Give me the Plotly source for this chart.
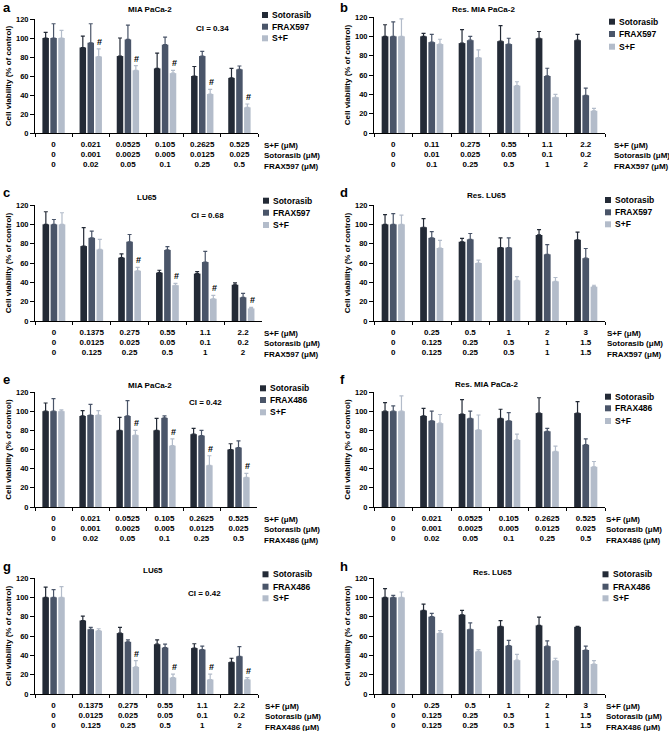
import plotly.graph_objects as go

# ---------------- data ----------------
# dose labels (tick rows)
mia_sf = ["0", "0.021", "0.0525", "0.105", "0.2625", "0.525"]
mia_soto = ["0", "0.001", "0.0025", "0.005", "0.0125", "0.025"]
mia_frax = ["0", "0.02", "0.05", "0.1", "0.25", "0.5"]

resmia_sf = ["0", "0.11", "0.275", "0.55", "1.1", "2.2"]
resmia_soto = ["0", "0.01", "0.025", "0.05", "0.1", "0.2"]
resmia_frax = ["0", "0.1", "0.25", "0.5", "1", "2"]

lu_sf = ["0", "0.1375", "0.275", "0.55", "1.1", "2.2"]
lu_soto = ["0", "0.0125", "0.025", "0.05", "0.1", "0.2"]
lu_frax = ["0", "0.125", "0.25", "0.5", "1", "2"]

reslu_sf = ["0", "0.25", "0.5", "1", "2", "3"]
reslu_soto = ["0", "0.125", "0.25", "0.5", "1", "1.5"]
reslu_frax = ["0", "0.125", "0.25", "0.5", "1", "1.5"]

# panel a: MIA PaCa-2, FRAX597
a_soto = [100, 90, 81, 68, 60, 58]
a_soto_err = [6, 12, 19, 16, 10, 10]
a_frax = [100, 95, 98.5, 93, 81, 67]
a_frax_err = [15, 20, 15, 8, 5, 3.5]
a_sf = [100, 80.5, 66, 63, 41, 27]
a_sf_err = [8, 8, 5, 3, 5, 3.5]
a_hash = [False, True, True, True, True, True]

# panel b: Res. MIA PaCa-2, FRAX597
b_soto = [100, 100, 93, 95, 98, 96]
b_soto_err = [12, 3, 14, 16, 7, 6]
b_frax = [100, 94, 96, 92, 59, 39]
b_frax_err = [15, 8, 4, 6, 8, 7.5]
b_sf = [100, 92, 78, 49, 37, 23]
b_sf_err = [18, 5, 8, 4, 3, 2.5]
b_hash = [False] * 6

# panel c: LU65, FRAX597
c_soto = [100, 77.5, 65.5, 50, 49, 37.5]
c_soto_err = [13, 19, 4, 2.5, 2, 2]
c_frax = [100, 86, 82, 73.5, 61, 24.5]
c_frax_err = [5, 7, 7.5, 3.5, 11, 4]
c_sf = [100, 74, 52, 37, 23, 13]
c_sf_err = [12, 10.5, 3.5, 2, 3.5, 1]
c_hash = [False, False, True, True, True, True]

# panel d: Res. LU65, FRAX597
d_soto = [100, 97, 82, 76, 89, 84]
d_soto_err = [10, 9, 3.5, 10, 5.5, 8]
d_frax = [100, 86, 84.5, 76, 69, 65]
d_frax_err = [11, 6.5, 6, 10, 10, 10]
d_sf = [100, 75.5, 60, 42, 41, 35.5]
d_sf_err = [9.5, 8, 3, 4, 4, 1.5]
d_hash = [False] * 6

# panel e: MIA PaCa-2, FRAX486
e_soto = [100, 95, 80, 80, 76, 60]
e_soto_err = [8.5, 5.5, 13.5, 12.5, 6, 6]
e_frax = [100, 96, 95, 93, 74.5, 62]
e_frax_err = [13, 11, 16, 2, 5.5, 7]
e_sf = [100, 96, 75, 64, 43.5, 31]
e_sf_err = [1.5, 4.5, 5, 7, 10, 4]
e_hash = [False, False, True, True, True, True]

# panel f: Res. MIA PaCa-2, FRAX486
f_soto = [100, 95, 97, 92.5, 98, 98]
f_soto_err = [9, 8, 15, 9.5, 16, 12]
f_frax = [100, 90, 92.5, 90, 79, 65]
f_frax_err = [5.5, 10, 7.5, 8.5, 3, 6]
f_sf = [100, 87.5, 80.5, 70, 58, 42]
f_sf_err = [16, 9, 15.5, 6, 5.5, 5.5]
f_hash = [False] * 6

# panel g: LU65, FRAX486
g_soto = [100, 76, 63, 51.5, 47.5, 33]
g_soto_err = [10.5, 4.5, 6, 4.5, 4.5, 4]
g_frax = [100, 67, 54, 48, 46, 39]
g_frax_err = [8, 2, 2, 3.5, 3.5, 10]
g_sf = [100, 65.5, 28, 17, 15, 15]
g_sf_err = [11, 2, 6.5, 3.5, 5.5, 2]
g_hash = [False, False, True, True, True, True]

# panel h: Res. LU65, FRAX486
h_soto = [100, 86.5, 82, 70, 71, 69.5]
h_soto_err = [9, 6.5, 4.5, 6, 8.5, 0.5]
h_frax = [100, 80, 67, 50, 49.5, 45.5]
h_frax_err = [2, 3.5, 6.5, 5.5, 5.5, 4]
h_sf = [100, 63, 44, 35, 34.5, 31]
h_sf_err = [5.5, 2.5, 2, 6, 2.5, 3.5]
h_hash = [False] * 6

# ---------------- style / layout ----------------
W, H = 669, 731
FONT = "Liberation Sans, Arial, Helvetica, sans-serif"
C_SOTO = "#232a36"
C_FRAX = "#4a5569"
C_SF = "#b3bcca"
BARGAP = 0.36

panels = [
    dict(letter="a", title="MIA PaCa-2", frax="FRAX597", data=(a_soto, a_soto_err, a_frax, a_frax_err, a_sf, a_sf_err), hash=a_hash,
         ci="CI = 0.34", conc=(mia_sf, mia_soto, mia_frax),
         box=(35, 258, 19, 133), title_xy=(150, 10), letter_xy=(1, 0), ci_xy=(212, 29),
         leg_x=265, leg_y=(15, 26.7, 38.3), rowlab_x=262),
    dict(letter="b", title="Res. MIA PaCa-2", frax="FRAX597", data=(b_soto, b_soto_err, b_frax, b_frax_err, b_sf, b_sf_err), hash=b_hash,
         ci=None, conc=(resmia_sf, resmia_soto, resmia_frax),
         box=(374, 605, 17, 133), title_xy=(483, 10), letter_xy=(338, 0), ci_xy=None,
         leg_x=612, leg_y=(21.7, 34, 46.7), rowlab_x=612),
    dict(letter="c", title="LU65", frax="FRAX597", data=(c_soto, c_soto_err, c_frax, c_frax_err, c_sf, c_sf_err), hash=c_hash,
         ci="CI = 0.68", conc=(lu_sf, lu_soto, lu_frax),
         box=(35, 262, 205, 321), title_xy=(147, 197), letter_xy=(1, 185), ci_xy=(208, 215),
         leg_x=266, leg_y=(200.7, 212.7, 225), rowlab_x=262),
    dict(letter="d", title="Res. LU65", frax="FRAX597", data=(d_soto, d_soto_err, d_frax, d_frax_err, d_sf, d_sf_err), hash=d_hash,
         ci=None, conc=(reslu_sf, reslu_soto, reslu_frax),
         box=(374, 605, 205, 321), title_xy=(487, 196), letter_xy=(338, 185), ci_xy=None,
         leg_x=608, leg_y=(200, 212.3, 224.3), rowlab_x=605),
    dict(letter="e", title="MIA PaCa-2", frax="FRAX486", data=(e_soto, e_soto_err, e_frax, e_frax_err, e_sf, e_sf_err), hash=e_hash,
         ci="CI = 0.42", conc=(mia_sf, mia_soto, mia_frax),
         box=(35, 257, 392, 507), title_xy=(150, 385), letter_xy=(1, 372), ci_xy=(205, 402),
         leg_x=263, leg_y=(388.3, 400, 412.3), rowlab_x=262),
    dict(letter="f", title="Res. MIA PaCa-2", frax="FRAX486", data=(f_soto, f_soto_err, f_frax, f_frax_err, f_sf, f_sf_err), hash=f_hash,
         ci=None, conc=(mia_sf, mia_soto, mia_frax),
         box=(374, 605, 392, 507), title_xy=(487, 384), letter_xy=(338, 372), ci_xy=None,
         leg_x=608, leg_y=(396.7, 408.3, 421), rowlab_x=604),
    dict(letter="g", title="LU65", frax="FRAX486", data=(g_soto, g_soto_err, g_frax, g_frax_err, g_sf, g_sf_err), hash=g_hash,
         ci="CI = 0.42", conc=(lu_sf, lu_soto, lu_frax),
         box=(35, 258, 578, 694), title_xy=(153, 570), letter_xy=(1, 559), ci_xy=(204, 593),
         leg_x=265.5, leg_y=(574.3, 586.7, 598.3), rowlab_x=263),
    dict(letter="h", title="Res. LU65", frax="FRAX486", data=(h_soto, h_soto_err, h_frax, h_frax_err, h_sf, h_sf_err), hash=h_hash,
         ci=None, conc=(reslu_sf, reslu_soto, reslu_frax),
         box=(374, 605, 578, 694), title_xy=(492, 572), letter_xy=(338, 559), ci_xy=None,
         leg_x=605.5, leg_y=(574.3, 586.7, 598.3), rowlab_x=604),
]

fig = go.Figure()
annotations = []
shapes = []
layout = dict(
    width=W, height=H, autosize=False,
    margin=dict(l=0, r=0, t=0, b=0),
    paper_bgcolor="white", plot_bgcolor="white",
    barmode="group", bargap=BARGAP, bargroupgap=0.18,
    font=dict(family=FONT, size=8, color="black"),
    showlegend=False,
)


def px_x(v):
    return v / W


def px_y(v):
    return 1 - v / H


for i, p in enumerate(panels, start=1):
    xa = "x" if i == 1 else f"x{i}"
    ya = "y" if i == 1 else f"y{i}"
    soto, soto_e, frax, frax_e, sf, sf_e = p["data"]
    r_sf, r_soto, r_frax = p["conc"]
    cats = [f"{a}<br>{b}<br>{c}" for a, b, c in zip(r_sf, r_soto, r_frax)]
    series = [("Sotorasib", soto, soto_e, C_SOTO),
              (p["frax"], frax, frax_e, C_FRAX),
              ("S+F", sf, sf_e, C_SF)]

    for name, vals, errs, col in series:
        fig.add_trace(go.Bar(
            x=cats, y=vals, name=name, xaxis=xa, yaxis=ya,
            marker=dict(color=col, line=dict(width=0)),
            error_y=dict(type="data", symmetric=False, array=errs, arrayminus=[0] * len(errs),
                         color=col, thickness=1.2, width=2),
        ))

    x0, x1, y0, y1 = p["box"]
    xkey = "xaxis" if i == 1 else f"xaxis{i}"
    ykey = "yaxis" if i == 1 else f"yaxis{i}"
    layout[xkey] = dict(
        domain=[px_x(x0), px_x(x1)], anchor=ya, type="category",
        showline=True, linecolor="black", linewidth=1, mirror=False,
        ticks="outside", tickson="boundaries", ticklen=3, tickwidth=1, tickcolor="black",
        ticklabelstandoff=3,
        tickfont=dict(family=FONT, size=8, color="black", weight="bold"),
        showgrid=False, zeroline=False, automargin=False, fixedrange=True,
    )
    layout[ykey] = dict(
        domain=[px_y(y1), px_y(y0)], anchor=xa, range=[0, 120], tick0=0, dtick=20,
        showline=True, linecolor="black", linewidth=1,
        ticks="outside", ticklen=4, tickwidth=1, tickcolor="black",
        tickfont=dict(family=FONT, size=7.5, color="black", weight="bold"),
        showgrid=False, zeroline=False, automargin=False, fixedrange=True,
        title=dict(text="Cell viability (% of control)", standoff=3,
                   font=dict(family=FONT, size=8, color="black", weight="bold")),
    )

    # legend (key squares + labels)
    for (name, _, _, col), ry in zip(series, p["leg_y"]):
        sx = p["leg_x"]
        shapes.append(dict(type="rect", xref="paper", yref="paper",
                           x0=px_x(sx - 3), x1=px_x(sx + 3), y0=px_y(ry + 3), y1=px_y(ry - 3),
                           fillcolor=col, line=dict(width=0)))
        annotations.append(dict(text=name, x=px_x(sx + 5), y=px_y(ry), xref="paper", yref="paper",
                                showarrow=False, xanchor="left", yanchor="middle",
                                font=dict(family=FONT, size=8.5, color="black", weight="bold")))

    # panel title
    tx, ty = p["title_xy"]
    annotations.append(dict(text=p["title"], x=px_x(tx), y=px_y(ty), xref="paper", yref="paper",
                            showarrow=False, xanchor="center", yanchor="middle",
                            font=dict(family=FONT, size=8, color="black", weight="bold")))
    # panel letter
    lx_, ly_ = p["letter_xy"]
    annotations.append(dict(text=p["letter"], x=px_x(lx_), y=px_y(ly_), xref="paper", yref="paper",
                            showarrow=False, xanchor="left", yanchor="top", yshift=2,
                            font=dict(family=FONT, size=13, color="black", weight="bold")))
    # CI label
    if p["ci"]:
        cx, cy = p["ci_xy"]
        annotations.append(dict(text=p["ci"], x=px_x(cx), y=px_y(cy), xref="paper", yref="paper",
                                showarrow=False, xanchor="center", yanchor="middle",
                                font=dict(family=FONT, size=8, color="black", weight="bold")))
    # dose row labels
    annotations.append(dict(text=f"S+F (μM)<br>Sotorasib (μM)<br>{p['frax']} (μM)",
                            x=px_x(p["rowlab_x"]), y=0, xref="paper", yref=f"{ya} domain",
                            showarrow=False, xanchor="left", yanchor="top", align="left", yshift=-6,
                            font=dict(family=FONT, size=8, color="black", weight="bold")))
    # significance marks above S+F bars
    sf_offset = (1 - BARGAP) / 3
    for k, flag in enumerate(p["hash"]):
        if flag:
            annotations.append(dict(text="#", x=k + sf_offset, y=sf[k] + sf_e[k], xref=xa, yref=ya,
                                    showarrow=False, xanchor="center", yanchor="bottom", xshift=1, yshift=0,
                                    font=dict(family=FONT, size=9, color="black", weight="bold")))

layout["annotations"] = annotations
layout["shapes"] = shapes
fig.update_layout(**layout)
fig.write_html("out.html", config={"displayModeBar": False},
               post_script="document.body.style.margin='0';document.body.style.overflow='hidden';")
